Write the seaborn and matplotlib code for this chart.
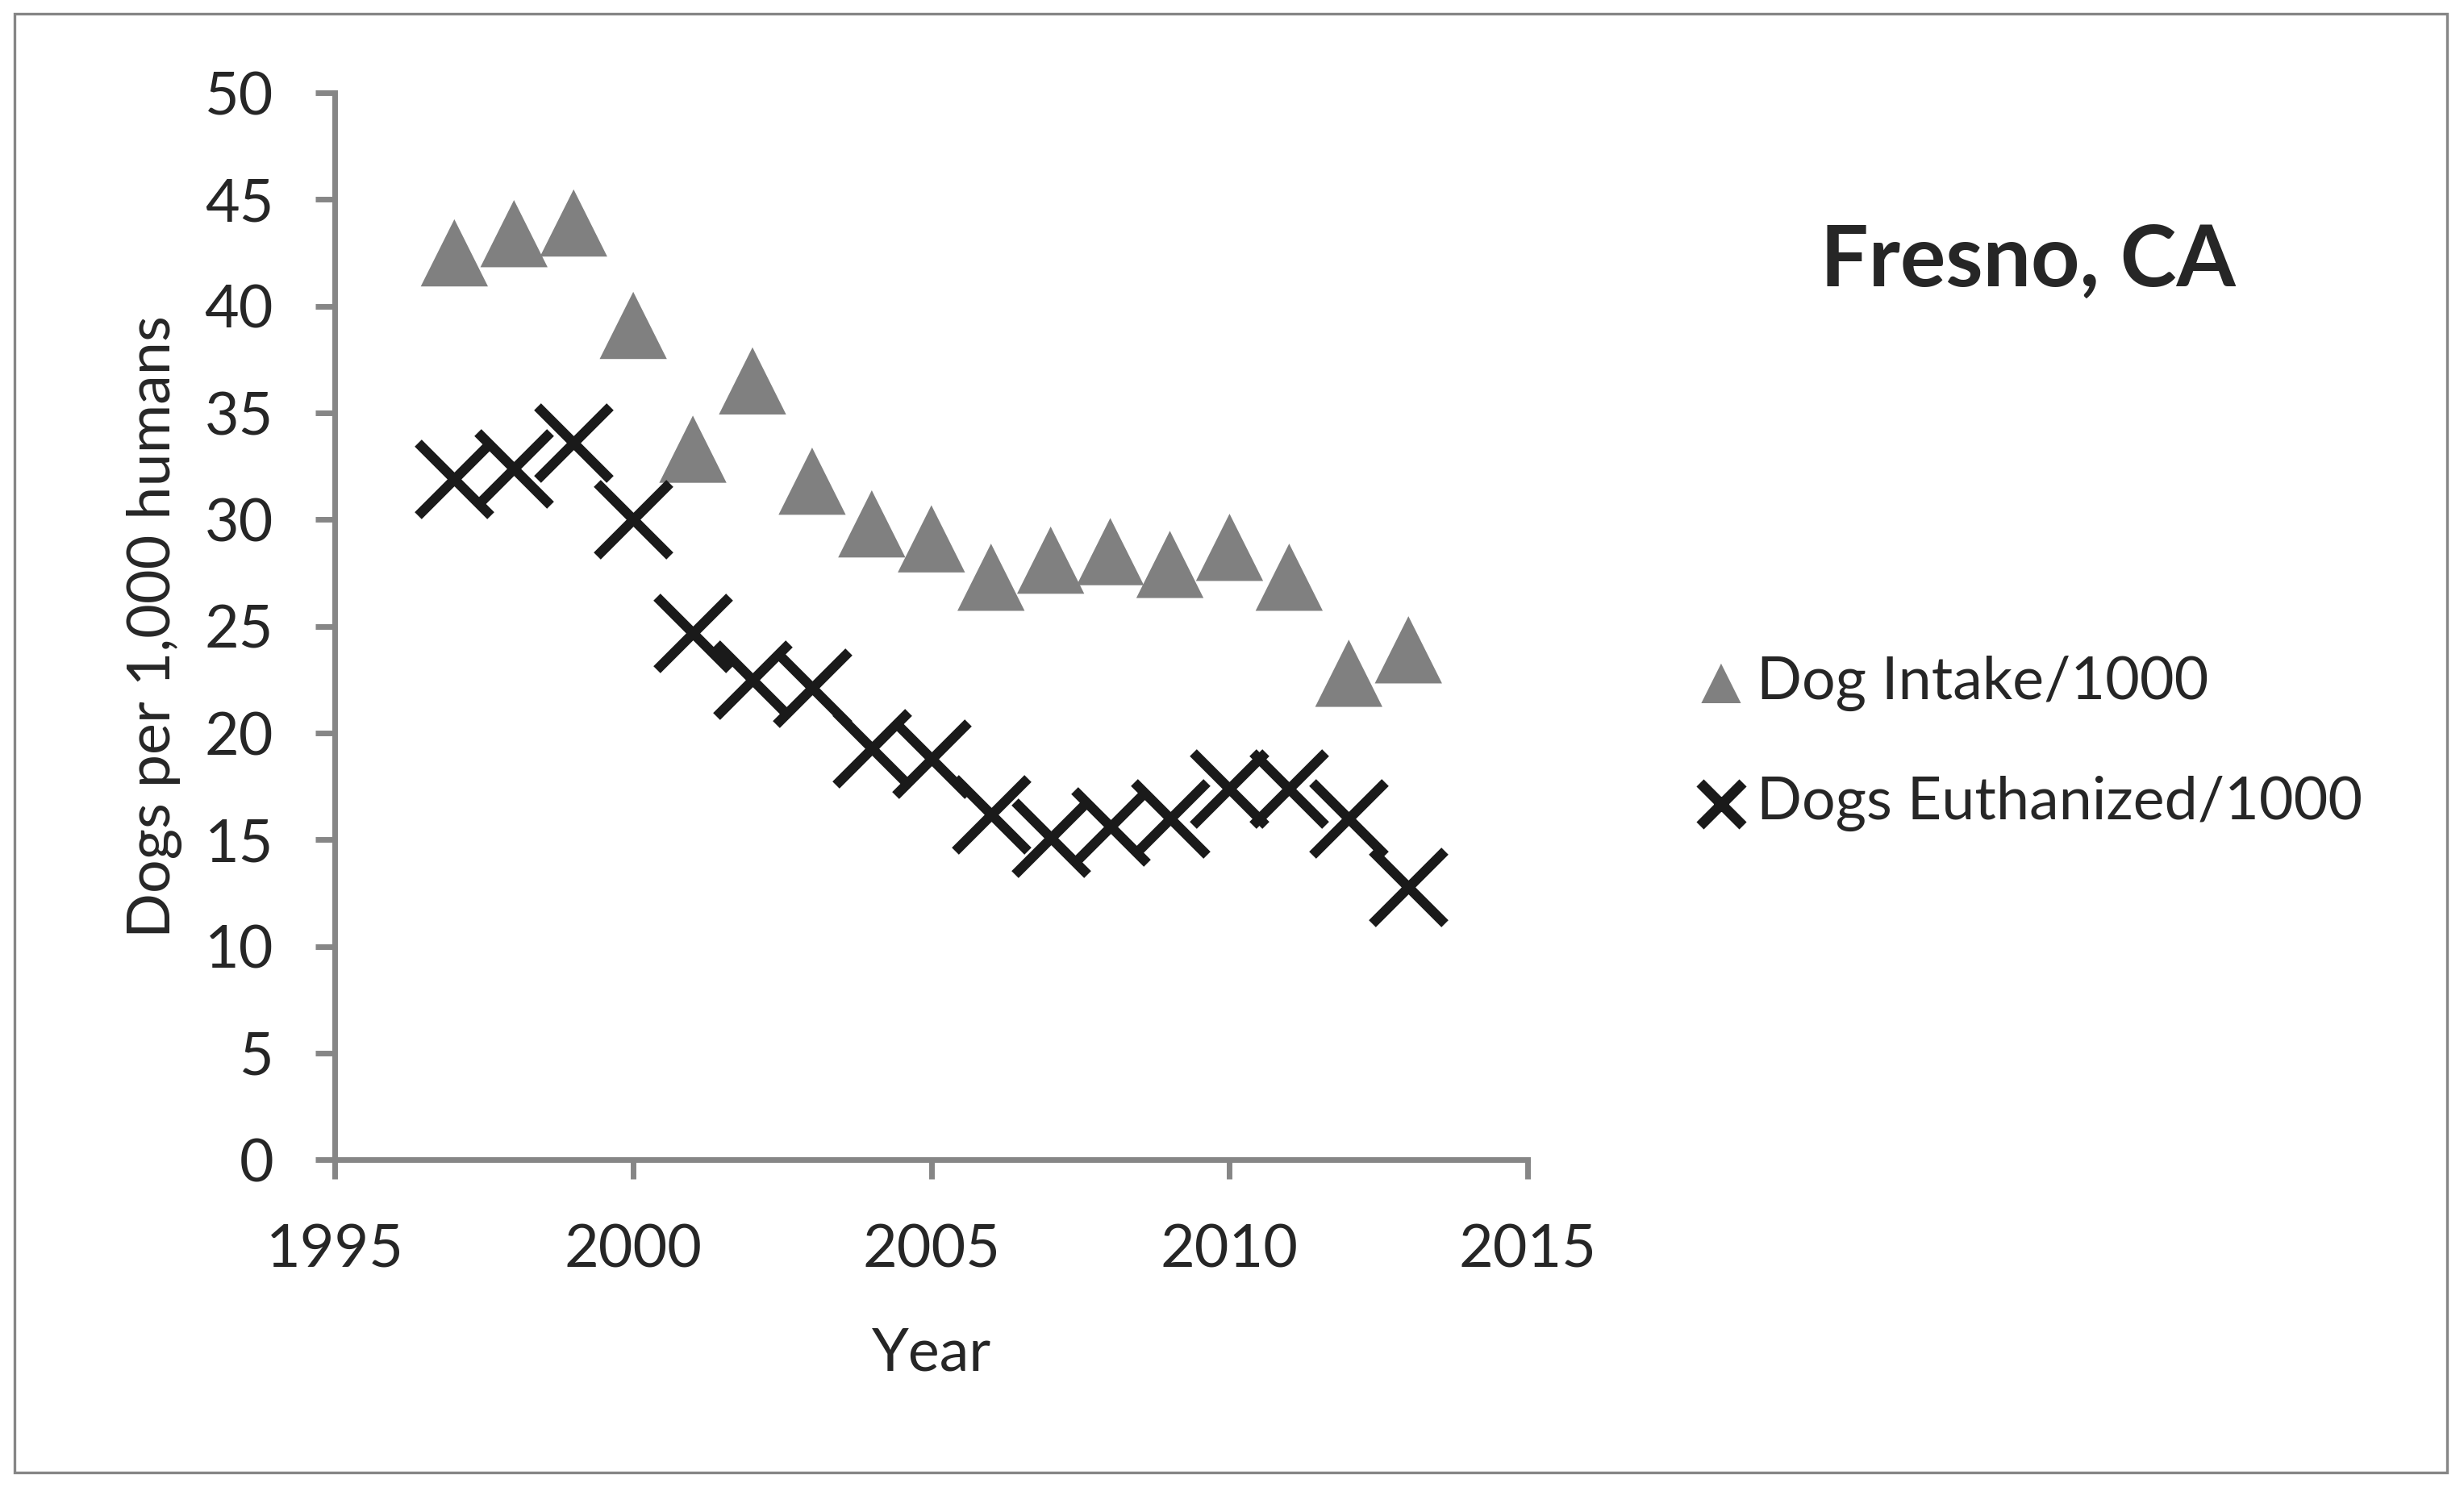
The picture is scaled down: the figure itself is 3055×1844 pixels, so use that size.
import pandas as pd
import matplotlib.pyplot as plt
import matplotlib.patches as patches
import seaborn as sns

years = [1997, 1998, 1999, 2000, 2001, 2002, 2003, 2004, 2005,
         2006, 2007, 2008, 2009, 2010, 2011, 2012, 2013]
intake = [42.5, 43.4, 43.9, 39.1, 33.3, 36.5, 31.8, 29.8, 29.1,
          27.3, 28.1, 28.5, 27.9, 28.7, 27.3, 22.8, 23.9]
euthanized = [31.9, 32.4, 33.6, 30.0, 24.7, 22.5, 22.1, 19.3, 18.8,
              16.2, 15.1, 15.6, 16.0, 17.4, 17.4, 16.0, 12.8]
x_ticks = [1995, 2000, 2005, 2010, 2015]
y_ticks = [0, 5, 10, 15, 20, 25, 30, 35, 40, 45, 50]

df = pd.DataFrame({'Year': years, 'Intake': intake, 'Euthanized': euthanized})

sns.set_style('white')
plt.rcParams['font.family'] = ['Lato', 'DejaVu Sans']

fig = plt.figure(figsize=(15.275, 9.22), dpi=200)
ax = fig.add_axes([0.136, 0.220, 0.484, 0.7176])

grey = '#808080'
axis_grey = '#868686'
fs = 26.5

sns.scatterplot(data=df, x='Year', y='Intake', ax=ax, marker='^', s=900,
                color=grey, edgecolor='none', label='Dog Intake/1000', zorder=3)
sns.scatterplot(data=df, x='Year', y='Euthanized', ax=ax, marker='x', s=1050,
                color='#1a1a1a', linewidth=4.4, label='Dogs Euthanized/1000', zorder=4)
ax.collections[1].set_linewidth(4.4)

ax.set_xlim(1995, 2015)
ax.set_ylim(0, 50)
ax.set_xticks(x_ticks)
ax.set_yticks(y_ticks)
ax.set_xlabel('Year', fontsize=fs, labelpad=22)
ax.set_ylabel('Dogs per 1,000 humans', fontsize=fs, labelpad=10)
ax.tick_params(axis='both', direction='out', length=8.5, width=2.5,
               color=axis_grey, labelsize=fs, bottom=True, left=True)
ax.tick_params(axis='x', pad=20)
ax.tick_params(axis='y', pad=19)
for side in ['top', 'right']:
    ax.spines[side].set_visible(False)
for side in ['left', 'bottom']:
    ax.spines[side].set_color(axis_grey)
    ax.spines[side].set_linewidth(2.5)
for c in ax.collections:
    c.set_clip_on(False)

leg = ax.legend(loc='center left', bbox_to_anchor=(0.672, 0.50),
                bbox_transform=fig.transFigure, frameon=False, fontsize=fs,
                borderpad=0, handlelength=1.2, handletextpad=0.0,
                labelspacing=1.09, markerscale=0.59)
leg.legend_handles[1].set_linewidth(4.6)

fig.text(0.823, 0.824, 'Fresno, CA', fontsize=38, fontweight='bold',
         ha='center', va='center')

fig.patches.append(patches.Rectangle((0.006, 0.010), 0.987, 0.981,
                                     transform=fig.transFigure, fill=False,
                                     edgecolor=axis_grey, linewidth=1.2))

plt.savefig('out.png', dpi=200)
